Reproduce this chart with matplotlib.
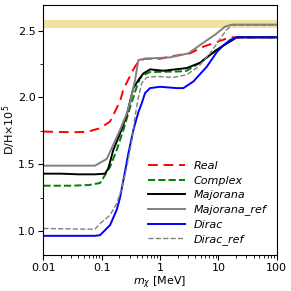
import matplotlib
matplotlib.use("Agg")
import matplotlib.pyplot as plt
from matplotlib.ticker import MultipleLocator

# mass in MeV, D/H x 1e5
x_real = [0.01, 0.03, 0.055, 0.0937, 0.139, 0.158, 0.206, 0.235, 0.349, 0.425, 0.55, 1.0, 1.69, 3.27, 5.53, 9.4, 15.9, 100]
y_real = [1.745, 1.74, 1.742, 1.77, 1.82, 1.87, 1.97, 2.06, 2.21, 2.27, 2.29, 2.29, 2.31, 2.33, 2.38, 2.415, 2.45, 2.45]

x_complex = [0.01, 0.03, 0.06, 0.0937, 0.139, 0.181, 0.235, 0.306, 0.399, 0.455, 0.592, 0.675, 2.21, 2.87, 4.85, 9.4, 15.9, 20.7, 100]
y_complex = [1.34, 1.34, 1.345, 1.36, 1.48, 1.607, 1.757, 1.925, 2.08, 2.145, 2.18, 2.19, 2.195, 2.20, 2.26, 2.357, 2.42, 2.45, 2.45]

x_maj = [0.01, 0.02, 0.04, 0.0769, 0.114, 0.130, 0.158, 0.206, 0.269, 0.306, 0.349, 0.425, 0.518, 0.675, 1.14, 2.87, 4.85, 9.4, 15.9, 20.7, 100]
y_maj = [1.43, 1.43, 1.425, 1.425, 1.43, 1.47, 1.607, 1.73, 1.87, 1.97, 2.07, 2.13, 2.18, 2.21, 2.20, 2.22, 2.26, 2.357, 2.42, 2.45, 2.45]

x_maj_ref = [0.01, 0.0769, 0.122, 0.206, 0.269, 0.306, 0.373, 0.425, 0.553, 1.49, 3.06, 5.53, 8.79, 13.0, 17.0, 100]
y_maj_ref = [1.49, 1.49, 1.54, 1.757, 1.88, 1.96, 2.13, 2.28, 2.29, 2.30, 2.33, 2.41, 2.47, 2.53, 2.545, 2.545]

x_dirac = [0.01, 0.0769, 0.0937, 0.139, 0.181, 0.206, 0.235, 0.286, 0.349, 0.425, 0.486, 0.553, 0.675, 1.0, 1.94, 2.51, 3.73, 6.32, 9.4, 12.2, 15.9, 20.7, 100]
y_dirac = [0.965, 0.965, 0.97, 1.045, 1.16, 1.25, 1.38, 1.58, 1.757, 1.89, 1.957, 2.033, 2.07, 2.08, 2.07, 2.07, 2.12, 2.23, 2.34, 2.39, 2.43, 2.45, 2.45]

x_dirac_ref = [0.01, 0.05, 0.0769, 0.0937, 0.139, 0.181, 0.221, 0.269, 0.328, 0.373, 0.425, 0.486, 0.592, 0.879, 1.69, 2.87, 4.54, 7.21, 11.4, 13.9, 17.0, 100]
y_dirac_ref = [1.02, 1.015, 1.015, 1.057, 1.12, 1.207, 1.32, 1.48, 1.68, 1.86, 2.0, 2.108, 2.15, 2.157, 2.15, 2.17, 2.23, 2.33, 2.457, 2.507, 2.54, 2.54]

obs_lo, obs_hi = 2.52, 2.58  # observed D/H band

plt.rcParams['font.size'] = 8
fig = plt.figure(figsize=(2.91, 2.91), dpi=100)
ax = fig.add_axes([0.149, 0.123, 0.802, 0.859])

ax.axhspan(obs_lo, obs_hi, color='#f0e3a0', lw=0)

ax.plot(x_real, y_real, color='red', ls=(0, (5, 3)), lw=1.4, label='Real')
ax.plot(x_complex, y_complex, color='green', ls='--', lw=1.4, label='Complex')
ax.plot(x_maj, y_maj, color='black', lw=1.4, label='Majorana')
ax.plot(x_maj_ref, y_maj_ref, color='gray', lw=1.4, label='Majorana_ref')
ax.plot(x_dirac, y_dirac, color='blue', lw=1.4, label='Dirac')
ax.plot(x_dirac_ref, y_dirac_ref, color='gray', ls='--', lw=1.0, label='Dirac_ref')

ax.set_xscale('log')
ax.set_xlim(0.01, 100)
ax.set_ylim(0.82, 2.69)
ax.set_xticks([0.01, 0.1, 1, 10, 100])
ax.set_xticklabels(['0.01', '0.1', '1', '10', '100'])
ax.yaxis.set_major_locator(MultipleLocator(0.5))
ax.yaxis.set_minor_locator(MultipleLocator(0.25))
ax.tick_params(which='major', length=3.5, width=0.8, pad=2)
ax.tick_params(which='minor', length=2, width=0.6)

ax.set_xlabel(r'$m_\chi$ [MeV]', labelpad=1)
ax.set_ylabel(r'D/H$\times10^5$')
ax.yaxis.set_label_coords(-0.108, 0.5)

ax.legend(loc='lower right', frameon=False, prop={'style': 'italic', 'size': 8},
          handlelength=3.3, labelspacing=0.4, bbox_to_anchor=(1.0, 0.0))

fig.savefig('out.png', dpi=100)
